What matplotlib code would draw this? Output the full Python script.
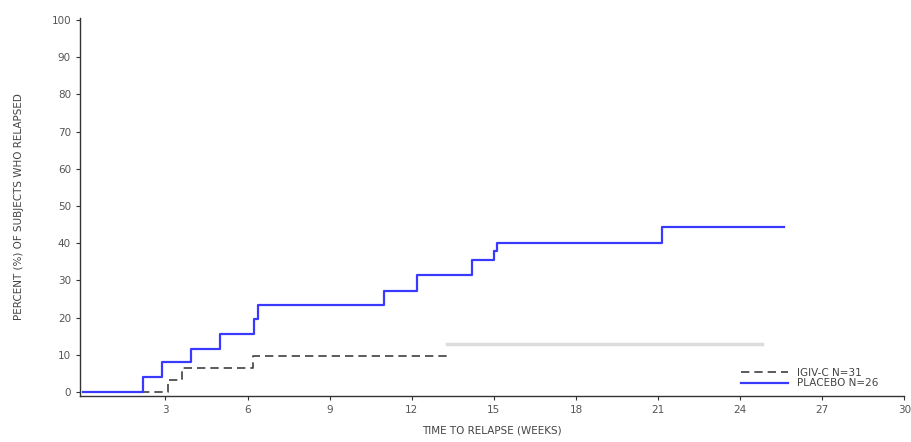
import matplotlib
matplotlib.use("Agg")
import matplotlib.pyplot as plt
from matplotlib import rcParams

rcParams['font.family'] = ['DejaVu Sans']
rcParams['font.size'] = 8

# --- Data (weeks, percent relapsed) ---
placebo_t = [0.0, 2.17, 2.86, 3.95, 5.0, 6.25, 6.4, 10.98, 12.2, 14.2, 15.0, 15.1, 21.15, 25.6]
placebo_y = [0.0, 4.0, 8.0, 11.5, 15.5, 19.5, 23.5, 27.2, 31.5, 35.5, 38.0, 40.0, 44.4, 44.4]

igiv_t = [2.1, 3.1, 3.6, 6.2, 13.3]
igiv_y = [0.0, 3.2, 6.5, 9.7, 9.7]

# faded tail of the IGIV-C curve in the scan
igiv_tail_t = [13.3, 24.8]
igiv_tail_y = [12.9, 12.9]

xticks = [3, 6, 9, 12, 15, 18, 21, 24, 27, 30]
yticks = [0, 10, 20, 30, 40, 50, 60, 70, 80, 90, 100]

fig = plt.figure(figsize=(9.11, 4.42), dpi=100)
ax = fig.add_axes([0.0878, 0.1048, 0.9050, 0.8542])

ax.step(igiv_tail_t, igiv_tail_y, where='post', color='#dcdcdc', linewidth=2.5, zorder=1)
ax.step(igiv_t, igiv_y, where='post', color='#404040', linewidth=1.2,
        linestyle=(0, (5, 3)), label='IGIV-C N=31', zorder=2)
ax.step(placebo_t, placebo_y, where='post', color='#3a3aff', linewidth=1.6,
        label='PLACEBO N=26', zorder=3)

ax.set_xlim(-0.12, 30)
ax.set_ylim(-1, 100.5)
ax.set_xticks(xticks)
ax.set_yticks(yticks)

for side in ['top', 'right']:
    ax.spines[side].set_visible(False)
for side in ['left', 'bottom']:
    ax.spines[side].set_color('#333333')
    ax.spines[side].set_linewidth(1.0)

ax.tick_params(direction='out', length=3, width=0.8, colors='#333333',
               labelsize=7.5, labelcolor='#555555')

ax.set_xlabel('TIME TO RELAPSE (WEEKS)', fontsize=7.5, color='#444444', labelpad=8)
ax.set_ylabel('PERCENT (%) OF SUBJECTS WHO RELAPSED', fontsize=7.5, color='#444444', labelpad=20)

ax.legend(loc='lower right', bbox_to_anchor=(0.98, -0.005), frameon=False,
          fontsize=7.5, handlelength=4.5, handletextpad=0.9, labelspacing=0.05,
          labelcolor='#444444')

fig.savefig('out.png', dpi=100)
